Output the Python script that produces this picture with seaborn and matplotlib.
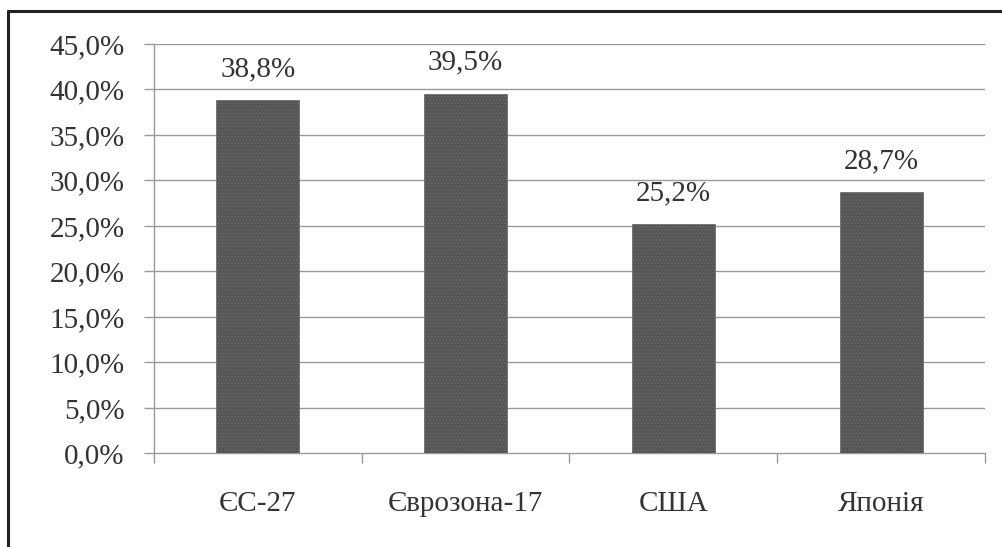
import matplotlib
matplotlib.use('Agg')
import matplotlib.pyplot as plt
import seaborn as sns
import pandas as pd
from matplotlib.lines import Line2D

# --- Data ---
categories = ['ЄС-27', 'Єврозона-17', 'США', 'Японія']
values = [38.8, 39.5, 25.2, 28.7]
y_ticks = [0, 5, 10, 15, 20, 25, 30, 35, 40, 45]
y_tick_labels = ['0,0%', '5,0%', '10,0%', '15,0%', '20,0%', '25,0%',
                 '30,0%', '35,0%', '40,0%', '45,0%']
value_labels = ['38,8%', '39,5%', '25,2%', '28,7%']

df = pd.DataFrame({'region': categories, 'share': values})

# --- Style ---
sns.set_style('white')
plt.rcParams['font.family'] = ['Liberation Serif', 'DejaVu Serif']
plt.rcParams['hatch.linewidth'] = 0.5
grid_color = '#9a9a9a'
text_color = '#333333'
fs = 21

fig = plt.figure(figsize=(10.02, 5.47), dpi=100)
ax = fig.add_axes([0.1537, 0.171, 0.8293, 0.7486])

sns.barplot(data=df, x='region', y='share', color='#565656', saturation=1,
            width=0.4, edgecolor='#6e6e6e', linewidth=0.6, hatch='.....',
            ax=ax, zorder=3)

ax.set_ylim(0, 45)
ax.set_xlim(-0.5, 3.5)
ax.set_yticks(y_ticks)
ax.set_yticklabels(y_tick_labels, fontsize=fs, color=text_color)
ax.set_xticks([0, 1, 2, 3])
ax.set_xticklabels(categories, fontsize=fs, color=text_color)
ax.set_xlabel('')
ax.set_ylabel('')

# grid
for t in y_ticks[1:]:
    ax.axhline(t, color=grid_color, linewidth=1.0, zorder=1)

# spines
for s in ['top', 'right']:
    ax.spines[s].set_visible(False)
for s in ['left', 'bottom']:
    ax.spines[s].set_color(grid_color)
    ax.spines[s].set_linewidth(1.0)

ax.tick_params(axis='y', length=7, width=1.0, color=grid_color, pad=14, left=True)
ax.tick_params(axis='x', length=0, pad=27)
ax.set_xticks([-0.5, 0.5, 1.5, 2.5, 3.5], minor=True)
ax.tick_params(axis='x', which='minor', length=7, width=1.0, color=grid_color, bottom=True)

# value labels
for i, (v, lab) in enumerate(zip(values, value_labels)):
    ax.text(i, v + 2.0, lab, ha='center', va='bottom', fontsize=fs,
            color=text_color, zorder=4)

# outer frame (top and left edges visible)
x0 = 8 / 1002
y0 = 1 - 11 / 547
fig.add_artist(Line2D([x0, 1.0], [y0, y0], transform=fig.transFigure,
                      color='#222222', linewidth=2.2))
fig.add_artist(Line2D([x0, x0], [0.0, y0], transform=fig.transFigure,
                      color='#222222', linewidth=2.2))

fig.savefig('out.png', dpi=100)
